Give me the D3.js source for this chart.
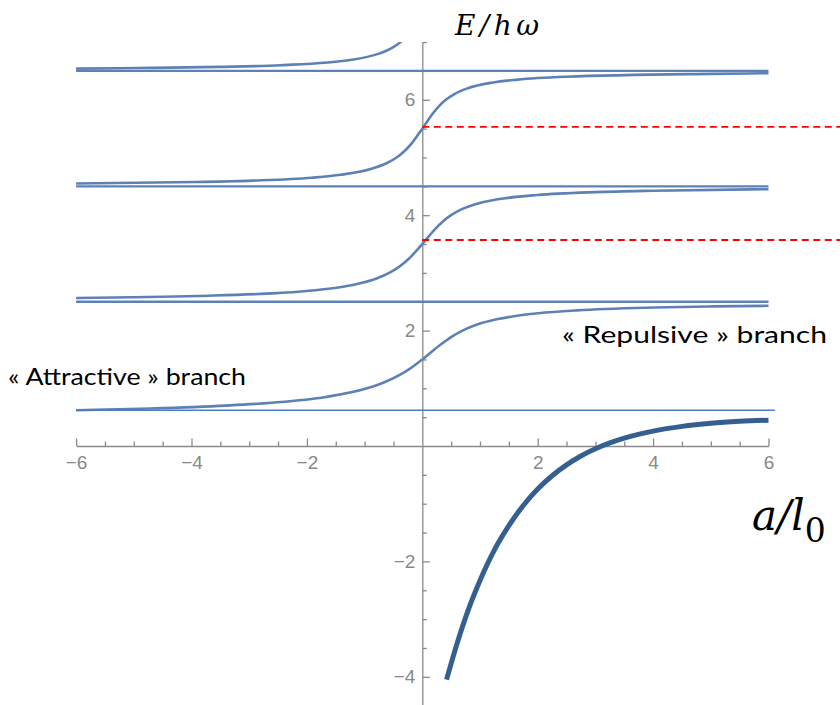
<!DOCTYPE html>
<html>
<head>
<meta charset="utf-8">
<script src="https://cdn.jsdelivr.net/npm/d3@7"></script>
<style>
  html, body { margin: 0; padding: 0; background: #ffffff; }
  svg { display: block; }
</style>
</head>
<body>
<svg id="chart" width="840" height="705"></svg>
<script>
// ---------- data ----------
// x = a/l0, y = E/hω
const xTicksMajor = [-6, -4, -2, 2, 4, 6];
const yTicksMajor = [-4, -2, 2, 4, 6];
const tickLabelsX = ["\u22126", "\u22124", "\u22122", "2", "4", "6"];
const tickLabelsY = ["\u22124", "\u22122", "2", "4", "6"];

// asymptotic levels drawn as flat lines across the range
const flatLevels = [2.5, 4.5, 6.5];

// branch 0 : 0.62 (a=-6) -> 1.5 (a=0) -> 2.43 (a=6)
const branch0A = [-6, -4.72, -3.41, -2.60, -1.67, -0.956, -0.667, -0.359, -0.20, 0, 0.308, 0.519, 0.697, 0.938, 1.308, 1.59, 2.01, 2.68, 4.03, 5.04, 6];
const branch0E = [0.62, 0.65, 0.70, 0.75, 0.85, 1.0, 1.1, 1.25, 1.35, 1.5, 1.75, 1.9, 2.0, 2.1, 2.2, 2.25, 2.3, 2.35, 2.4, 2.42, 2.43];

// branch 1 : 2.565 -> 3.5 -> 4.45
const branch1A = [-6, -3.88, -2.52, -1.858, -1.164, -0.803, -0.5735, -0.41, -0.2285, 0, 0.213, 0.366, 0.498, 0.677, 0.954, 1.479, 1.99, 3.0, 4.0, 6];
const branch1E = [2.565, 2.60, 2.65, 2.70, 2.80, 2.9, 3.0, 3.1, 3.25, 3.5, 3.75, 3.9, 4.0, 4.1, 4.2, 4.3, 4.35, 4.4, 4.425, 4.45];

// branch 2 : 4.55 -> 5.5 -> 6.46
const branch2A = [-6, -3.92, -2.94, -1.915, -1.415, -0.894, -0.62, -0.446, -0.321, -0.18, 0, 0.1724, 0.2986, 0.4076, 0.556, 0.787, 1.224, 1.647, 2.49, 4.99, 6];
const branch2E = [4.55, 4.575, 4.60, 4.65, 4.7, 4.8, 4.9, 5.0, 5.1, 5.25, 5.5, 5.75, 5.9, 6.0, 6.1, 6.2, 6.3, 6.35, 6.4, 6.45, 6.46];

// branch 3 (left part only, leaves the frame at the top)
const branch3A = [-6, -4.94, -3.5, -2.455, -1.187, -0.752, -0.523, -0.3775, -0.272];
const branch3E = [6.54, 6.55, 6.57, 6.6, 6.7, 6.8, 6.9, 7.0, 7.1];

// bound (molecular) state, thick dark curve
const boundA = [0.42, 0.6, 0.8, 1.0, 1.25, 1.5, 1.75, 2.0, 2.25, 2.5, 2.75, 3.0, 3.25, 3.5, 4.0, 4.5, 5.0, 5.5, 6.0];
const boundE = [-4.05, -3.43, -2.83, -2.33, -1.80, -1.38, -1.03, -0.745, -0.515, -0.327, -0.173, -0.049, 0.053, 0.136, 0.258, 0.34, 0.394, 0.427, 0.447];

// thin reference line ("attractive" threshold) and red dashed markers
const thinLineE = 0.62;
const thinLineA = [-6, 6.11];
const redDashE = [5.53, 3.57];
const redDashA = [0, 7.3];

// ---------- drawing ----------
const svg = d3.select("#chart");
const x = d3.scaleLinear().domain([-6, 6]).range([76.1, 768.5]);
const y = d3.scaleLinear().domain([-4.5, 7]).range([705.65, 42.1]);

const axisColor = "#8a8a8a";
const curveColor = "#5e81b5";

svg.append("defs").append("clipPath").attr("id", "plotclip")
  .append("rect").attr("x", 0).attr("y", y(7)).attr("width", 840).attr("height", 705 - y(7));

const zip = (as, es) => as.map((a, i) => [a, es[i]]);
const line = d3.line().x(d => x(d[0])).y(d => y(d[1])).curve(d3.curveMonotoneX);

// axes -----------------------------------------------------------
const minorX = d3.range(-6, 6.001, 0.5).filter(v => Math.abs(v) > 1e-9 && xTicksMajor.indexOf(v) < 0);
const minorY = d3.range(-4.5, 7.001, 0.5).filter(v => Math.abs(v) > 1e-9 && yTicksMajor.indexOf(v) < 0);

const gx = svg.append("g").attr("transform", `translate(0,${y(0)})`);
gx.call(d3.axisBottom(x).tickValues(xTicksMajor)
  .tickFormat((d, i) => tickLabelsX[i]).tickSizeInner(-7.5).tickSizeOuter(0).tickPadding(10));
gx.append("g").call(d3.axisBottom(x).tickValues(minorX).tickFormat("").tickSizeInner(-4.5).tickSizeOuter(0))
  .select(".domain").remove();

const gy = svg.append("g").attr("transform", `translate(${x(0)},0)`);
gy.call(d3.axisLeft(y).tickValues(yTicksMajor)
  .tickFormat((d, i) => tickLabelsY[i]).tickSizeInner(-7.5).tickSizeOuter(0).tickPadding(7));
gy.append("g").call(d3.axisLeft(y).tickValues(minorY).tickFormat("").tickSizeInner(-4.5).tickSizeOuter(0))
  .select(".domain").remove();

svg.selectAll(".domain, .tick line").attr("stroke", axisColor).attr("stroke-width", 1.3);
svg.selectAll(".tick text").attr("fill", "#888888")
  .style("font-family", "'Liberation Sans', Arial, sans-serif").style("font-size", "19px");

// curves ---------------------------------------------------------
const gc = svg.append("g").attr("clip-path", "url(#plotclip)");

gc.selectAll("line.flat").data(flatLevels).enter().append("line")
  .attr("class", "flat")
  .attr("x1", x(-6)).attr("x2", x(6))
  .attr("y1", d => y(d)).attr("y2", d => y(d))
  .attr("stroke", curveColor).attr("stroke-width", 2.3);

const branches = [zip(branch0A, branch0E), zip(branch1A, branch1E), zip(branch2A, branch2E), zip(branch3A, branch3E)];
gc.selectAll("path.branch").data(branches).enter().append("path")
  .attr("class", "branch").attr("d", line)
  .attr("fill", "none").attr("stroke", curveColor).attr("stroke-width", 2.6);

// thin line
svg.append("line")
  .attr("x1", x(thinLineA[0])).attr("x2", x(thinLineA[1]))
  .attr("y1", y(thinLineE)).attr("y2", y(thinLineE))
  .attr("stroke", "#4a7cc4").attr("stroke-width", 1.6);

// red dashed lines
svg.selectAll("line.red").data(redDashE).enter().append("line")
  .attr("class", "red")
  .attr("x1", x(redDashA[0])).attr("x2", x(redDashA[1]))
  .attr("y1", d => y(d)).attr("y2", d => y(d))
  .attr("stroke", "#ff0000").attr("stroke-width", 1.8).attr("stroke-dasharray", "7,4.5");

// bound state
svg.append("path").datum(zip(boundA, boundE)).attr("d", line)
  .attr("fill", "none").attr("stroke", "#365f91").attr("stroke-width", 5).attr("stroke-linecap", "butt");

// labels ---------------------------------------------------------
const serif = "'DejaVu Serif', 'Liberation Serif', serif";
svg.append("text").attr("x", 455).attr("y", 35)
  .attr("textLength", 84).attr("lengthAdjust", "spacing")
  .style("font-family", serif).style("font-style", "italic").style("font-size", "28px").attr("fill", "#000")
  .text("E/h\u03C9");

const al = svg.append("text").attr("x", 752).attr("y", 530)
  .style("font-family", serif).style("font-style", "italic").style("font-size", "42px").attr("fill", "#000");
al.append("tspan").text("a/l");
al.append("tspan").attr("dy", 12).style("font-style", "normal").style("font-size", "33px").text("0");

const sans = "Lato, 'Open Sans', 'Liberation Sans', sans-serif";
svg.append("text").attr("x", 8).attr("y", 385)
  .attr("textLength", 238).attr("lengthAdjust", "spacingAndGlyphs")
  .style("font-family", sans).style("font-size", "22.5px").attr("fill", "#000")
  .text("\u00AB Attractive \u00BB branch");
svg.append("text").attr("x", 562).attr("y", 343)
  .attr("textLength", 265).attr("lengthAdjust", "spacingAndGlyphs")
  .style("font-family", sans).style("font-size", "22.5px").attr("fill", "#000")
  .text("\u00AB Repulsive \u00BB branch");
</script>
</body>
</html>
